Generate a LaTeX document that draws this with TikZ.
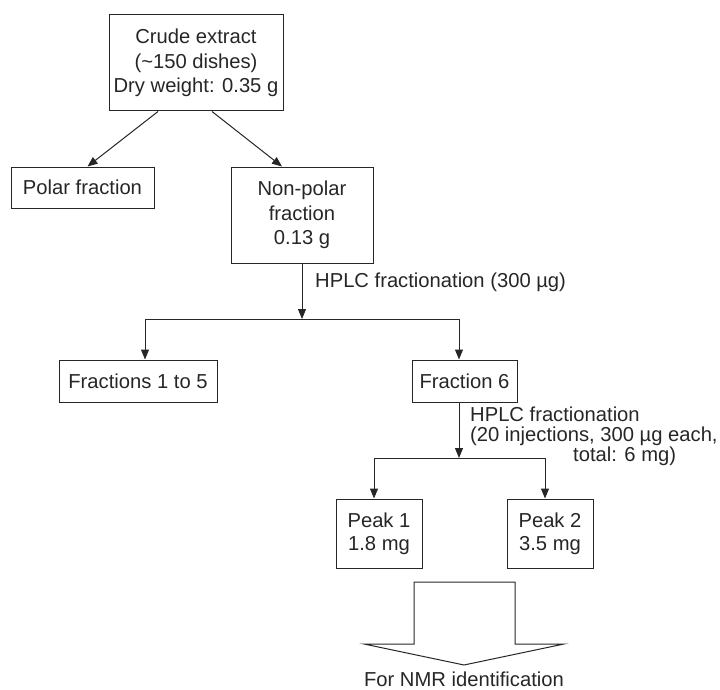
\documentclass[tikz,border=0pt]{standalone}
\usepackage{fontspec}
\setmainfont{Liberation Sans}
\usetikzlibrary{arrows.meta,calc}
\begin{document}
\begin{tikzpicture}[x=1pt,y=-1pt,
  every node/.style={font=\fontsize{20.2}{24.5}\selectfont, text=black!85},
  box/.style={draw=black!85, line width=1pt, inner sep=0pt, align=center},
  arr/.style={line width=1pt, draw=black!85, -{Triangle[length=10pt,width=8pt]}},
  ln/.style={line width=1pt, draw=black!85},
  lbl/.style={inner sep=0pt, align=left, font=\fontsize{20.2}{20}\selectfont}]
\useasboundingbox (0,0) rectangle (720,690);
% boxes
\node[box, minimum width=174pt, minimum height=96pt] (crude) at (196,63) {Crude extract\\(\textasciitilde150 dishes)\\Dry weight: 0.35 g};
\node[box, minimum width=143pt, minimum height=41pt] (polar) at (82.5,187.5) {Polar fraction};
\node[box, minimum width=142pt, minimum height=96pt] (nonpolar) at (302,215) {Non-polar\\fraction\\0.13 g};
\node[box, minimum width=158pt, minimum height=42pt] (f15) at (138,381) {Fractions 1 to 5};
\node[box, minimum width=105pt, minimum height=42pt] (f6) at (464.5,381) {Fraction 6};
\node[box, minimum width=86pt, minimum height=69pt, font=\fontsize{20.2}{23}\selectfont] (p1) at (379,533.5) {Peak 1\\1.8 mg};
\node[box, minimum width=86pt, minimum height=69pt, font=\fontsize{20.2}{23}\selectfont] (p2) at (550,533.5) {Peak 2\\3.5 mg};
% labels
\node[lbl, anchor=base west] (l1) at (315,287) {HPLC fractionation (300 µg)};
\node[lbl, anchor=north west] (l2) at (470,407) {HPLC fractionation\\(20 injections, 300 µg each,\\\hspace*{103pt}total: 6 mg)};
% junction coordinates
\coordinate (j1) at (302,319);
\coordinate (j1l) at (145,319);
\coordinate (j1r) at (459,319);
\coordinate (j2) at (459,458);
\coordinate (j2l) at (374,458);
\coordinate (j2r) at (545,458);
% connectors
\draw[arr] ([xshift=-38pt]crude.south) -- ([xshift=5pt]polar.north);
\draw[arr] ([xshift=16pt]crude.south) -- ([xshift=-20pt]nonpolar.north);
\draw[arr] (nonpolar.south) -- (j1);
\draw[ln] (j1l) -- (j1r);
\draw[arr] (j1l) -- (j1l |- f15.north);
\draw[arr] (j1r) -- (j1r |- f6.north);
\draw[arr] (j1r |- f6.south) -- (j2);
\draw[ln] (j2l) -- (j2r);
\draw[arr] (j2l) -- (j2l |- p1.north);
\draw[arr] (j2r) -- (j2r |- p2.north);
% big arrow
\draw[ln, line join=miter] (414,582) -- (515,582) -- (515,644) -- (564,644) -- (464,665) -- (364,644) -- (414,644) -- cycle;
\node[inner sep=0pt, anchor=base] (nmr) at (464,686) {For NMR identification};
\end{tikzpicture}
\end{document}
